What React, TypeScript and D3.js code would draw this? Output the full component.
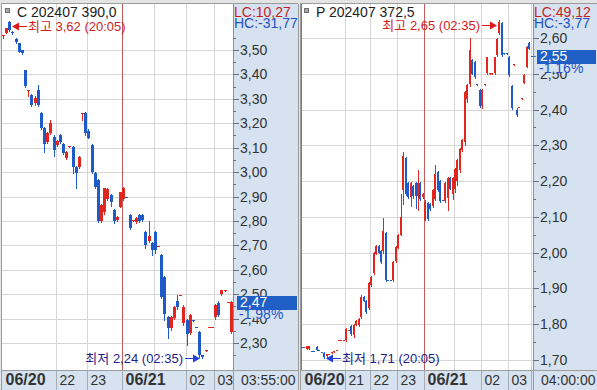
import React, { useEffect, useRef } from "react";
import * as d3 from "d3";

const W = 597;
const H = 390;

// ---- C 202407 390,0 : 5분봉 (06/20 20:00 ~ 06/21 03:55) ----
const callOpen = [
  3.557, 3.57, 3.615, 3.572, 3.545, 3.529, 3.5, 3.418, 3.33, 3.316,
  3.285, 3.336, 3.242, 3.18, 3.123, 3.16, 3.143, 3.111, 3.152, 3.115,
  3.057, 3.104, 3.102, 3.02, 3.02, 3.235, 3.242, 3.17, 3.111, 2.996,
  2.967, 2.8, 2.836, 2.89, 2.906, 2.844, 2.803, 2.857, 2.89, 2.899,
  2.824, 2.8, 2.795, 2.824, 2.824, 2.754, 2.72, 2.71, 2.754, 2.696,
  2.66, 2.57, 2.406, 2.361, 2.402, 2.47, 2.495, 2.381, 2.393, 2.34,
  2.394, 2.366, 2.344, 2.25, 2.269, 2.364, 2.364, 2.406, 2.463, 2.5,
  2.515, 2.466, 2.344,
];
const callHigh = [
  3.56, 3.592, 3.62, 3.578, 3.548, 3.53, 3.5, 3.42, 3.336, 3.32,
  3.31, 3.357, 3.245, 3.184, 3.165, 3.213, 3.15, 3.13, 3.155, 3.118,
  3.085, 3.106, 3.105, 3.025, 3.065, 3.242, 3.245, 3.175, 3.115, 3.0,
  2.97, 2.87, 2.936, 2.934, 2.91, 2.85, 2.82, 2.92, 2.94, 2.899,
  2.83, 2.802, 2.815, 2.83, 2.828, 2.758, 2.8, 2.713, 2.757, 2.698,
  2.665, 2.575, 2.41, 2.41, 2.45, 2.496, 2.497, 2.455, 2.4, 2.42,
  2.394, 2.366, 2.35, 2.252, 2.271, 2.366, 2.366, 2.46, 2.47, 2.518,
  2.517, 2.468, 2.47,
];
const callLow = [
  3.55, 3.568, 3.578, 3.566, 3.53, 3.49, 3.485, 3.35, 3.31, 3.27,
  3.275, 3.27, 3.178, 3.082, 3.12, 3.155, 3.066, 3.108, 3.12, 3.075,
  3.055, 3.104, 2.996, 2.934, 3.018, 3.215, 3.15, 3.14, 2.996, 2.935,
  2.795, 2.795, 2.83, 2.885, 2.86, 2.79, 2.8, 2.855, 2.885, 2.897,
  2.765, 2.8, 2.79, 2.795, 2.8, 2.69, 2.715, 2.66, 2.67, 2.696,
  2.485, 2.393, 2.32, 2.355, 2.4, 2.44, 2.495, 2.375, 2.291, 2.335,
  2.392, 2.364, 2.244, 2.24, 2.269, 2.364, 2.364, 2.4, 2.41, 2.498,
  2.515, 2.466, 2.34,
];
const callClose = [
  3.56, 3.59, 3.582, 3.568, 3.533, 3.492, 3.488, 3.352, 3.335, 3.275,
  3.305, 3.275, 3.18, 3.115, 3.16, 3.2, 3.09, 3.127, 3.123, 3.078,
  3.082, 3.106, 3.02, 2.996, 3.061, 3.24, 3.16, 3.143, 3.0, 2.939,
  2.8, 2.865, 2.934, 2.93, 2.877, 2.8, 2.816, 2.918, 2.934, 2.897,
  2.77, 2.802, 2.811, 2.8, 2.805, 2.7, 2.74, 2.68, 2.68, 2.698,
  2.49, 2.42, 2.361, 2.406, 2.447, 2.447, 2.497, 2.447, 2.336, 2.414,
  2.392, 2.364, 2.25, 2.24, 2.271, 2.366, 2.366, 2.455, 2.414, 2.516,
  2.517, 2.468, 2.467,
];
// 시간 구분선: 봉 번호와 라벨
const callTickIndex = [0, 17, 27, 38, 48, 58, 67];
const callTickLabel = ["06/20", "22", "23", "06/21", "", "02", "03"];
const callYTicks = [2.3, 2.4, 2.5, 2.6, 2.7, 2.8, 2.9, 3.0, 3.1, 3.2, 3.3, 3.4, 3.5];
const callMinor = [2.25, 2.35, 2.45, 2.55, 2.65, 2.75, 2.85, 2.95, 3.05, 3.15, 3.25, 3.35, 3.45, 3.55];

// ---- P 202407 372,5 ----
const putOpen = [
  1.737, 1.735, 1.731, 1.731, 1.726, 1.726, 1.737, 1.729, 1.723, 1.72,
  1.71, 1.716, 1.72, 1.722, 1.727, 1.755, 1.755, 1.755, 1.756, 1.783,
  1.795, 1.77, 1.8, 1.797, 1.82, 1.877, 1.866, 1.845, 1.91, 1.943,
  1.997, 2.02, 2.005, 2.003, 2.055, 1.925, 1.925, 1.924, 1.975, 2.015,
  2.05, 2.175, 2.265, 2.195, 2.156, 2.185, 2.195, 2.16, 2.195, 2.156,
  2.093, 2.14, 2.135, 2.13, 2.15, 2.225, 2.2, 2.148, 2.145, 2.155,
  2.21, 2.165, 2.18, 2.2, 2.23, 2.287, 2.31, 2.43, 2.47, 2.539,
  2.533, 2.471, 2.455, 2.41, 2.47, 2.5, 2.5, 2.5, 2.5, 2.553,
  2.614, 2.642, 2.557, 2.557, 2.546, 2.465, 2.524, 2.4, 2.406, 2.43,
  2.475, 2.52, 2.586, 2.551,
];
const putHigh = [
  1.737, 1.737, 1.738, 1.738, 1.726, 1.726, 1.738, 1.729, 1.723, 1.721,
  1.716, 1.718, 1.722, 1.724, 1.729, 1.757, 1.757, 1.757, 1.79, 1.785,
  1.797, 1.8, 1.812, 1.817, 1.882, 1.88, 1.868, 1.917, 1.935, 2.002,
  2.022, 2.022, 2.008, 2.097, 2.058, 1.925, 1.925, 1.978, 2.018, 2.052,
  2.165, 2.28, 2.268, 2.198, 2.198, 2.188, 2.198, 2.23, 2.198, 2.168,
  2.146, 2.143, 2.138, 2.178, 2.245, 2.228, 2.203, 2.148, 2.198, 2.212,
  2.212, 2.212, 2.238, 2.262, 2.292, 2.317, 2.452, 2.472, 2.6, 2.542,
  2.536, 2.471, 2.458, 2.458, 2.472, 2.548, 2.502, 2.502, 2.548, 2.6,
  2.65, 2.645, 2.557, 2.557, 2.549, 2.468, 2.526, 2.403, 2.408, 2.432,
  2.499, 2.578, 2.59, 2.551,
];
const putLow = [
  1.736, 1.735, 1.731, 1.731, 1.725, 1.725, 1.728, 1.728, 1.722, 1.706,
  1.709, 1.716, 1.72, 1.722, 1.727, 1.755, 1.755, 1.755, 1.754, 1.783,
  1.77, 1.765, 1.798, 1.795, 1.818, 1.864, 1.832, 1.843, 1.908, 1.94,
  1.995, 1.998, 1.972, 2.0, 1.922, 1.924, 1.924, 1.922, 1.973, 2.013,
  2.048, 2.135, 2.162, 2.152, 2.13, 2.152, 2.125, 2.12, 2.146, 2.154,
  2.09, 2.092, 2.118, 2.128, 2.148, 2.172, 2.142, 2.147, 2.143, 2.12,
  2.178, 2.15, 2.17, 2.19, 2.225, 2.285, 2.3, 2.42, 2.465, 2.498,
  2.488, 2.47, 2.408, 2.405, 2.47, 2.498, 2.5, 2.5, 2.498, 2.55,
  2.612, 2.55, 2.556, 2.556, 2.494, 2.402, 2.524, 2.383, 2.406, 2.43,
  2.473, 2.518, 2.568, 2.55,
];
const putClose = [
  1.736, 1.737, 1.738, 1.738, 1.725, 1.725, 1.728, 1.728, 1.722, 1.71,
  1.716, 1.718, 1.722, 1.724, 1.729, 1.757, 1.757, 1.757, 1.787, 1.785,
  1.773, 1.797, 1.81, 1.815, 1.877, 1.866, 1.835, 1.915, 1.933, 2.0,
  2.02, 2.0, 1.975, 2.06, 1.924, 1.924, 1.924, 1.975, 2.015, 2.05,
  2.1, 2.27, 2.165, 2.156, 2.195, 2.156, 2.16, 2.195, 2.15, 2.165,
  2.143, 2.095, 2.12, 2.175, 2.22, 2.175, 2.145, 2.147, 2.195, 2.21,
  2.18, 2.21, 2.235, 2.26, 2.29, 2.315, 2.45, 2.47, 2.566, 2.5,
  2.49, 2.47, 2.41, 2.455, 2.472, 2.546, 2.502, 2.502, 2.546, 2.597,
  2.645, 2.553, 2.556, 2.556, 2.496, 2.404, 2.526, 2.385, 2.408, 2.432,
  2.497, 2.575, 2.57, 2.55,
];
const putTickIndex = [0, 18, 28, 39, 50, 62, 73, 84, 93];
const putTickLabel = ["06/20", "21", "22", "23", "06/21", "", "02", "03", "04"];
const putYTicks = [1.7, 1.8, 1.9, 2.0, 2.1, 2.2, 2.3, 2.4, 2.5, 2.6];
const putMinor = [1.75, 1.85, 1.95, 2.05, 2.15, 2.25, 2.35, 2.45, 2.55, 2.65];

const RED = "#e2261e";
const BLUE = "#1f5bc8";
const AXIS_BG = "#d6e2f0";
const GRID = "#d6d6d6";
const BORDER = "#9c9c9c";
const DAYLINE = "#c45a5a";
const NARROW = "'Liberation Sans Narrow', 'Liberation Sans', 'Noto Sans CJK KR', sans-serif";

const fmt = (v: number) => v.toFixed(2).replace(".", ",");

const panels = [
  {
    id: "call",
    title: "C 202407 390,0",
    px0: 2,
    px1: 233,
    ax1: 298,
    yDomain: [2.3, 3.5],
    yRange: [343, 50],
    open: callOpen,
    high: callHigh,
    low: callLow,
    close: callClose,
    tickIndex: callTickIndex,
    tickLabel: callTickLabel,
    yTicks: callYTicks,
    minor: callMinor,
    lc: "LC:10,27",
    hc: "HC:-31,77",
    pct: "-1,98%",
    clock: "03:55:00",
    highTime: "20:05",
    lowTime: "02:35",
    startLine: false,
  },
  {
    id: "put",
    title: "P 202407 372,5",
    px0: 301,
    px1: 533,
    ax1: 597,
    yDomain: [1.7, 2.6],
    yRange: [360, 38],
    open: putOpen,
    high: putHigh,
    low: putLow,
    close: putClose,
    tickIndex: putTickIndex,
    tickLabel: putTickLabel,
    yTicks: putYTicks,
    minor: putMinor,
    lc: "LC:49,12",
    hc: "HC:-3,77",
    pct: "-1,16%",
    clock: "04:00:00",
    highTime: "02:35",
    lowTime: "20:05",
    startLine: true,
  },
];

function drawPanel(svg: any, p: any) {
  const top = 4;
  const bottom = 370;
  const g = svg.append("g");
  const n = p.open.length;

  g.append("rect").attr("x", p.px0).attr("y", top).attr("width", p.px1 - p.px0).attr("height", bottom - top).attr("fill", "#fff");
  g.append("rect").attr("x", p.px1).attr("y", top).attr("width", p.ax1 - p.px1).attr("height", bottom - top).attr("fill", AXIS_BG);
  g.append("rect").attr("x", p.px0).attr("y", bottom).attr("width", p.ax1 - p.px0).attr("height", H - bottom).attr("fill", AXIS_BG);

  const x = d3.scaleBand<number>().domain(d3.range(n)).range([p.px0, p.px1]);
  const y = d3.scaleLinear().domain(p.yDomain).range(p.yRange);
  const bw = Math.max(2, Math.round(x.step() - 0.6));
  const bx = (i: number) => Math.round(x(i) as number);

  const defs = g.append("defs");
  defs.append("clipPath").attr("id", `clip-${p.id}`)
    .append("rect").attr("x", p.px0).attr("y", top).attr("width", p.px1 - p.px0).attr("height", bottom - top);
  defs.append("clipPath").attr("id", `band-${p.id}`)
    .append("rect").attr("x", p.px0).attr("y", bottom).attr("width", p.px1 - p.px0).attr("height", H - bottom);

  const plot = g.append("g").attr("clip-path", `url(#clip-${p.id})`);

  plot.selectAll(".hgrid").data(p.yTicks).join("line")
    .attr("x1", p.px0).attr("x2", p.px1)
    .attr("y1", (d: number) => Math.round(y(d)) + 0.5).attr("y2", (d: number) => Math.round(y(d)) + 0.5)
    .attr("stroke", GRID);

  p.tickIndex.forEach((ti: number, k: number) => {
    const isDay = p.tickLabel[k].includes("/");
    if (ti === 0 && !p.startLine) return;
    const xx = bx(ti) + 0.5;
    plot.append("line").attr("x1", xx).attr("x2", xx).attr("y1", top).attr("y2", bottom)
      .attr("stroke", isDay ? DAYLINE : GRID);
  });

  const idx = d3.range(n);
  const col = (i: number) => (p.close[i] >= p.open[i] ? RED : BLUE);
  plot.selectAll(".wick").data(idx).join("line")
    .attr("x1", (i: number) => bx(i) + Math.floor(bw / 2) + 0.5)
    .attr("x2", (i: number) => bx(i) + Math.floor(bw / 2) + 0.5)
    .attr("y1", (i: number) => Math.round(y(p.high[i])))
    .attr("y2", (i: number) => Math.round(y(p.low[i])) + 1)
    .attr("stroke", col);
  plot.selectAll(".body").data(idx).join("rect")
    .attr("x", (i: number) => bx(i))
    .attr("width", bw)
    .attr("y", (i: number) => Math.round(y(Math.max(p.open[i], p.close[i]))))
    .attr("height", (i: number) => Math.max(1, Math.round(Math.abs(y(p.open[i]) - y(p.close[i])))))
    .attr("fill", col);

  // 최고 / 최저 표시
  const mark = (i: number, v: number, word: string, time: string, tc: string, ac: string, dy: number) => {
    const yy = Math.round(y(v)) + dy + 0.5;
    const toRight = bx(i) < (p.px0 + p.px1) / 2;
    const label = `${word} ${fmt(v)} (${time})`;
    if (toRight) {
      const tip = bx(i) + bw + 1;
      g.append("line").attr("x1", tip + 5).attr("x2", tip + 15).attr("y1", yy).attr("y2", yy).attr("stroke", ac);
      g.append("path").attr("d", `M${tip},${yy}L${tip + 7},${yy - 4}L${tip + 7},${yy + 4}Z`).attr("fill", ac);
      g.append("text").attr("x", tip + 16).attr("y", yy + 4.5).attr("fill", tc)
        .style("font-family", NARROW).style("font-size", "13px").text(label);
    } else {
      const tip = bx(i) - 1;
      g.append("line").attr("x1", tip - 5).attr("x2", tip - 15).attr("y1", yy).attr("y2", yy).attr("stroke", ac);
      g.append("path").attr("d", `M${tip},${yy}L${tip - 7},${yy - 4}L${tip - 7},${yy + 4}Z`).attr("fill", ac);
      g.append("text").attr("x", tip - 17).attr("y", yy + 4.5).attr("fill", tc).attr("text-anchor", "end")
        .style("font-family", NARROW).style("font-size", "13px").text(label);
    }
  };
  const hi = d3.maxIndex(p.high);
  const lo = d3.minIndex(p.low);
  mark(hi, p.high[hi], "최고", p.highTime, "#d21c1c", "#e01818", 5);
  mark(lo, p.low[lo], "최저", p.lowTime, "#1c1c8e", "#1f3fe0", 0);

  // 제목
  g.append("rect").attr("x", p.px0 + 3.5).attr("y", 8.5).attr("width", 4).attr("height", 4)
    .attr("fill", "#a8a8a8").attr("stroke", "#707070");
  g.append("text").attr("x", p.px0 + 15).attr("y", 17).attr("fill", "#222")
    .style("font-family", NARROW).style("font-size", "14px").text(p.title);

  // 가격축
  const ax = g.append("g");
  ax.append("line").attr("x1", p.px1 + 0.5).attr("x2", p.px1 + 0.5).attr("y1", top).attr("y2", bottom).attr("stroke", "#8892a2");
  ax.selectAll(".minor").data(p.minor).join("line")
    .attr("x1", p.px1).attr("x2", p.px1 + 3)
    .attr("y1", (d: number) => Math.round(y(d)) + 0.5).attr("y2", (d: number) => Math.round(y(d)) + 0.5)
    .attr("stroke", "#66707e");
  ax.selectAll(".major").data(p.yTicks).join("line")
    .attr("x1", p.px1).attr("x2", p.px1 + 6)
    .attr("y1", (d: number) => Math.round(y(d)) + 0.5).attr("y2", (d: number) => Math.round(y(d)) + 0.5)
    .attr("stroke", "#66707e");
  ax.selectAll(".ylab").data(p.yTicks).join("text")
    .attr("x", p.px1 + 7).attr("y", (d: number) => y(d) + 5)
    .attr("fill", "#333").style("font-family", NARROW).style("font-size", "14px")
    .text((d: number) => fmt(d));

  ax.append("text").attr("x", p.px1 + 1).attr("y", 17).attr("fill", "#c81e1e")
    .style("font-family", NARROW).style("font-size", "14px").text(p.lc);
  ax.append("text").attr("x", p.px1 + 1).attr("y", 28).attr("fill", "#2352c4")
    .style("font-family", NARROW).style("font-size", "14px").text(p.hc);

  const last = p.close[n - 1];
  const ly = Math.round(y(last));
  ax.append("rect").attr("x", p.px1 + 4).attr("y", ly - 6).attr("width", p.ax1 - p.px1 - 5).attr("height", 14).attr("fill", "#1f5fc6");
  ax.append("text").attr("x", p.px1 + 7).attr("y", ly + 5).attr("fill", "#fff")
    .style("font-family", NARROW).style("font-size", "14px").text(fmt(last));
  ax.append("rect").attr("x", p.px1 + 4).attr("y", ly + 8).attr("width", p.ax1 - p.px1 - 5).attr("height", 9).attr("fill", AXIS_BG);
  ax.append("text").attr("x", p.px1 + 6).attr("y", ly + 17).attr("fill", "#2352c4")
    .style("font-family", NARROW).style("font-size", "14px").text(p.pct);

  // 시간축
  const band = g.append("g").attr("clip-path", `url(#band-${p.id})`);
  p.tickIndex.forEach((ti: number, k: number) => {
    const lab = p.tickLabel[k];
    if (!lab) return;
    const xx = bx(ti) + 0.5;
    const isDay = lab.includes("/");
    if (ti > 0) band.append("line").attr("x1", xx).attr("x2", xx).attr("y1", bottom).attr("y2", H).attr("stroke", "#a4acb8");
    band.append("text").attr("x", xx + 3).attr("y", 385).attr("fill", "#333")
      .style("font-family", NARROW).style("font-size", isDay ? "16px" : "14px")
      .style("font-weight", isDay ? "bold" : "normal").text(lab);
  });
  g.append("text").attr("x", p.px1 + 8).attr("y", 385).attr("fill", "#333")
    .style("font-family", NARROW).style("font-size", "14px").text(p.clock);

  // 테두리
  const b = g.append("g").attr("stroke", BORDER).attr("fill", "none");
  b.append("line").attr("x1", p.px0 - 1).attr("x2", p.ax1).attr("y1", top - 0.5).attr("y2", top - 0.5);
  b.append("line").attr("x1", p.px0 - 0.5).attr("x2", p.px0 - 0.5).attr("y1", top).attr("y2", H);
  b.append("line").attr("x1", p.px0).attr("x2", p.ax1).attr("y1", bottom + 0.5).attr("y2", bottom + 0.5);
  b.append("line").attr("x1", p.px1 + 0.5).attr("x2", p.px1 + 0.5).attr("y1", bottom).attr("y2", H);
  if (p.ax1 < W) b.append("line").attr("x1", p.ax1 + 0.5).attr("x2", p.ax1 + 0.5).attr("y1", top).attr("y2", H);
}

export default function App() {
  const ref = useRef<SVGSVGElement>(null);

  useEffect(() => {
    const svg = d3.select(ref.current);
    svg.selectAll("*").remove();
    svg.append("rect").attr("width", W).attr("height", H).attr("fill", "#e4e4e4");
    panels.forEach((p) => drawPanel(svg, p));
  }, []);

  return (
    <svg
      ref={ref}
      width={W}
      height={H}
      style={{ position: "absolute", left: 0, top: 0, display: "block" }}
    />
  );
}
